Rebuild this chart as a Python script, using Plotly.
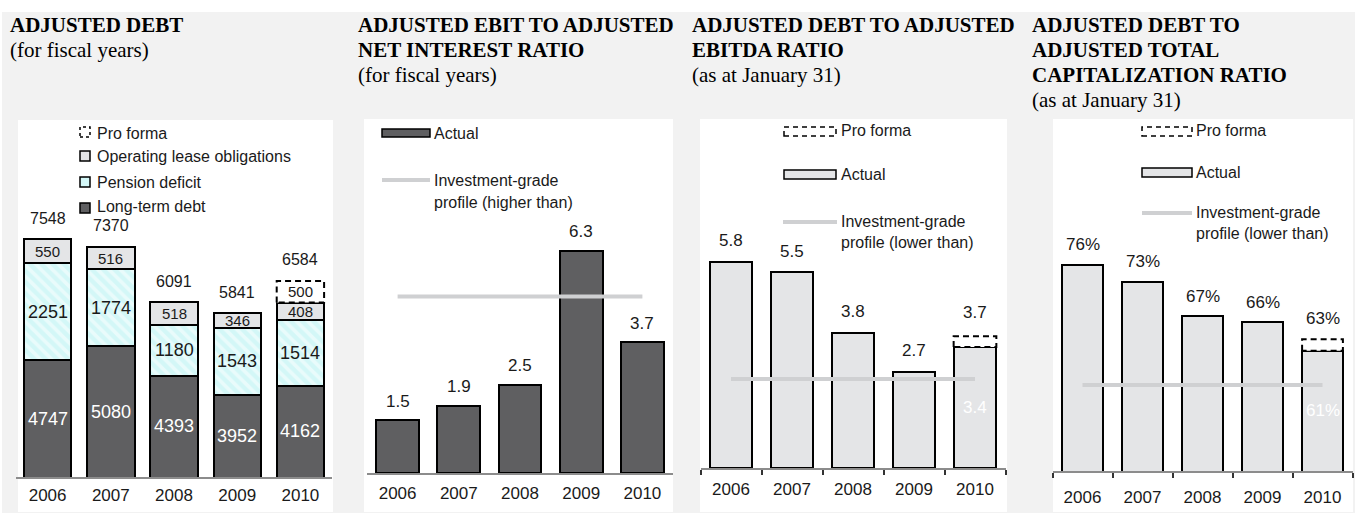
import plotly.graph_objects as go

# ---------------- data ----------------
years = [2006, 2007, 2008, 2009, 2010]
year_labels = ["2006", "2007", "2008", "2009", "2010"]

long_term_debt = [4747, 5080, 4393, 3952, 4162]
pension_deficit = [2251, 1774, 1180, 1543, 1514]
operating_lease = [550, 516, 518, 346, 408]
debt_pro_forma_2010 = 500

ebit_interest_ratio = [1.5, 1.9, 2.5, 6.3, 3.7]
ebit_interest_ig = 5.0

debt_ebitda_ratio = [5.8, 5.5, 3.8, 2.7, 3.4]
debt_ebitda_pro_forma_2010 = 3.7
debt_ebitda_ig = 2.5

debt_cap_ratio = [76, 73, 67, 66, 61]
debt_cap_pro_forma_2010 = 63
debt_cap_ig = 55

# ---------------- styling helpers ----------------
W, H = 1355, 513
def fx(x):
    return x / W
def fy(y):
    return 1 - y / H

DARK = "#5f5f61"
LIGHT = "#e4e5e7"
IGC = "#cfd0d2"
AXIS = "#8c8c8c"
TXT = "#1a1a1a"
SANS = "Liberation Sans, Arial, sans-serif"
SERIF = "Liberation Serif, Times New Roman, serif"

fig = go.Figure()
annotations = []
shapes = []

def ann(x, y, text, size=17, color=TXT, xref="x", yref="y", yshift=0,
        xanchor="center", yanchor="middle", family=SANS, bold=False):
    annotations.append(dict(
        x=x, y=y, text=text, xref=xref, yref=yref, yshift=yshift,
        xanchor=xanchor, yanchor=yanchor, showarrow=False,
        font=dict(family=family, size=size, color=color,
                  weight="bold" if bold else "normal")))

def pro_forma_box(xa, ya, center, width, base, top):
    fig.add_trace(go.Scatter(
        x=[center - width / 2, center - width / 2, center + width / 2,
           center + width / 2, center - width / 2],
        y=[base, top, top, base, base],
        mode="lines", fill="toself", fillcolor="white",
        line=dict(color="black", width=2, dash="6px,4px"),
        xaxis=xa, yaxis=ya, hoverinfo="skip", showlegend=False))

def ig_line(xa, ya, value):
    fig.add_trace(go.Scatter(
        x=[years[0], years[-1]], y=[value, value], mode="lines",
        line=dict(color=IGC, width=4), xaxis=xa, yaxis=ya,
        hoverinfo="skip", showlegend=False))

# ---------------- background ----------------
shapes.append(dict(type="rect", xref="paper", yref="paper",
                   x0=fx(2), x1=1, y0=0, y1=fy(12),
                   fillcolor="#f2f2f2", line=dict(width=0), layer="below"))
for (x0, x1, y0) in [(18, 333, 120), (364, 673, 119), (700, 1007, 119), (1053, 1353, 119)]:
    shapes.append(dict(type="rect", xref="paper", yref="paper",
                       x0=fx(x0), x1=fx(x1), y0=fy(512), y1=fy(y0),
                       fillcolor="white", line=dict(width=0), layer="below"))

# ---------------- titles ----------------
titles = [
    (8, ["ADJUSTED DEBT"], "(for fiscal years)"),
    (356, ["ADJUSTED EBIT TO ADJUSTED", "NET INTEREST RATIO"], "(for fiscal years)"),
    (690, ["ADJUSTED DEBT TO ADJUSTED", "EBITDA RATIO"], "(as at January 31)"),
    (1030, ["ADJUSTED DEBT TO", "ADJUSTED TOTAL", "CAPITALIZATION RATIO"], "(as at January 31)"),
]
for x, lines, sub in titles:
    for i, t in enumerate(lines):
        ann(fx(x), fy(25 + 25 * i), t, size=21, xref="paper", yref="paper",
            xanchor="left", family=SERIF, bold=True, color="black")
    ann(fx(x), fy(25 + 25 * len(lines)), sub, size=21, xref="paper", yref="paper",
        xanchor="left", family=SERIF, color="black")

# ---------------- panel 1: adjusted debt ----------------
w1 = 0.75
y1_min = 2055
fig.add_trace(go.Bar(x=years, y=long_term_debt, width=w1, name="Long-term debt",
                     marker=dict(color=DARK, line=dict(color="black", width=2)),
                     xaxis="x", yaxis="y"))
fig.add_trace(go.Bar(x=years, y=pension_deficit, width=w1, name="Pension deficit",
                     marker=dict(color="#d3f7f7", line=dict(color="black", width=2),
                                 pattern=dict(shape="\\", bgcolor="#d3f7f7",
                                              fgcolor="white", size=8, solidity=0.45)),
                     xaxis="x", yaxis="y"))
fig.add_trace(go.Bar(x=years, y=operating_lease, width=w1, name="Operating lease obligations",
                     marker=dict(color=LIGHT, line=dict(color="black", width=2)),
                     xaxis="x", yaxis="y"))
stack_2010 = long_term_debt[-1] + pension_deficit[-1] + operating_lease[-1]
pro_forma_box("x", "y", years[-1], w1, stack_2010, stack_2010 + debt_pro_forma_2010)

for i, yr in enumerate(years):
    ltd, pen, ol = long_term_debt[i], pension_deficit[i], operating_lease[i]
    total = ltd + pen + ol + (debt_pro_forma_2010 if i == len(years) - 1 else 0)
    ann(yr, (max(y1_min, 0) + ltd) / 2, str(ltd), size=18, color="white")
    ann(yr, ltd + pen / 2, str(pen), size=18)
    ann(yr, ltd + pen + ol / 2, str(ol), size=15)
    ann(yr, total, str(total), size=16, yshift=21)
ann(years[-1], stack_2010 + debt_pro_forma_2010 / 2, str(debt_pro_forma_2010), size=15)

# ---------------- panel 2: EBIT / interest ----------------
w2 = 0.70
fig.add_trace(go.Bar(x=years, y=ebit_interest_ratio, width=w2, name="Actual",
                     marker=dict(color=DARK, line=dict(color="black", width=2)),
                     xaxis="x2", yaxis="y2"))
ig_line("x2", "y2", ebit_interest_ig)
for yr, v in zip(years, ebit_interest_ratio):
    ann(yr, v, f"{v:.1f}", size=17, xref="x2", yref="y2", yshift=19)

# ---------------- panel 3: debt / EBITDA ----------------
w3 = 0.70
fig.add_trace(go.Bar(x=years, y=debt_ebitda_ratio, width=w3, name="Actual",
                     marker=dict(color=LIGHT, line=dict(color="black", width=2)),
                     xaxis="x3", yaxis="y3"))
pro_forma_box("x3", "y3", years[-1], w3, debt_ebitda_ratio[-1], debt_ebitda_pro_forma_2010)
ig_line("x3", "y3", debt_ebitda_ig)
for i, (yr, v) in enumerate(zip(years, debt_ebitda_ratio)):
    if i == len(years) - 1:
        ann(yr, v / 2, f"{v:.1f}", size=17, color="white", xref="x3", yref="y3")
        ann(yr, debt_ebitda_pro_forma_2010, f"{debt_ebitda_pro_forma_2010:.1f}",
            size=17, xref="x3", yref="y3", yshift=24)
    else:
        ann(yr, v, f"{v:.1f}", size=17, xref="x3", yref="y3", yshift=21)

# ---------------- panel 4: debt / capitalization ----------------
w4 = 0.68
y4_min = 40
fig.add_trace(go.Bar(x=years, y=debt_cap_ratio, width=w4, name="Actual",
                     marker=dict(color=LIGHT, line=dict(color="black", width=2)),
                     xaxis="x4", yaxis="y4"))
pro_forma_box("x4", "y4", years[-1], w4, debt_cap_ratio[-1], debt_cap_pro_forma_2010)
ig_line("x4", "y4", debt_cap_ig)
for i, (yr, v) in enumerate(zip(years, debt_cap_ratio)):
    if i == len(years) - 1:
        ann(yr, (y4_min + v) / 2, f"{v}%", size=17, color="white", xref="x4", yref="y4")
        ann(yr, debt_cap_pro_forma_2010, f"{debt_cap_pro_forma_2010}%",
            size=17, xref="x4", yref="y4", yshift=21)
    else:
        ann(yr, v, f"{v}%", size=17, xref="x4", yref="y4", yshift=20)

# ---------------- manual legends ----------------
def leg_rect(x0, x1, y0, y1, fill, dash=None, lw=1.5):
    line = dict(color="black", width=lw)
    if dash:
        line["dash"] = dash
    shapes.append(dict(type="rect", xref="paper", yref="paper",
                       x0=fx(x0), x1=fx(x1), y0=fy(y1), y1=fy(y0),
                       fillcolor=fill, line=line))

def leg_line(x0, x1, y):
    shapes.append(dict(type="line", xref="paper", yref="paper",
                       x0=fx(x0), x1=fx(x1), y0=fy(y), y1=fy(y),
                       line=dict(color=IGC, width=4)))

def leg_text(x, y, t):
    ann(fx(x), fy(y), t, size=16, xref="paper", yref="paper", xanchor="left")

# panel 1
leg_rect(80, 90, 127, 137, "white", dash="3px,3px")
leg_text(95, 133, "Pro forma")
leg_rect(80, 90, 151, 161, LIGHT)
leg_text(95, 156, "Operating lease obligations")
leg_rect(80, 90, 177, 187, "#d3f7f7")
leg_text(95, 182, "Pension deficit")
leg_rect(80, 90, 203, 213, DARK)
leg_text(95, 207, "Long-term debt")

# panel 2
leg_rect(382, 430, 129, 137, DARK)
leg_text(432, 133, "Actual")
leg_line(382, 430, 180)
leg_text(432, 180, "Investment-grade")
leg_text(432, 203, "profile (higher than)")

# panel 3
leg_rect(784, 836, 127, 136, "white", dash="5px,4px")
leg_text(839, 131, "Pro forma")
leg_rect(784, 836, 170, 179, LIGHT)
leg_text(839, 174, "Actual")
leg_line(783, 837, 222)
leg_text(839, 221, "Investment-grade")
leg_text(839, 242, "profile (lower than)")

# panel 4
leg_rect(1142, 1192, 127, 136, "white", dash="5px,4px")
leg_text(1194, 130, "Pro forma")
leg_rect(1142, 1192, 168, 177, LIGHT)
leg_text(1194, 172, "Actual")
leg_line(1142, 1192, 213)
leg_text(1194, 212, "Investment-grade")
leg_text(1194, 233, "profile (lower than)")

# ---------------- axes ----------------
def xaxis_cfg(x0, x1, anchor, ticklen, minor=False):
    cfg = dict(domain=[fx(x0), fx(x1)], range=[2005.5, 2010.5], anchor=anchor,
               tickmode="array", tickvals=years, ticktext=year_labels,
               ticks="outside", ticklen=ticklen, tickcolor="rgba(0,0,0,0)",
               showline=True, linecolor=AXIS, linewidth=2,
               showgrid=False, zeroline=False, fixedrange=True,
               tickfont=dict(family=SANS, size=17, color=TXT))
    if minor:
        cfg["minor"] = dict(tickmode="array",
                            tickvals=[y - 0.5 for y in years] + [years[-1] + 0.5],
                            ticks="outside", ticklen=5, tickwidth=1.5, tickcolor="#333")
    return cfg

def yaxis_cfg(y_bottom, y_top, rng, anchor):
    return dict(domain=[fy(y_bottom), fy(y_top)], range=rng, anchor=anchor,
                visible=False, showgrid=False, zeroline=False, fixedrange=True)

fig.update_layout(
    width=W, height=H, margin=dict(l=0, r=0, t=0, b=0),
    paper_bgcolor="white", plot_bgcolor="rgba(0,0,0,0)",
    barmode="stack", showlegend=False, hovermode=False,
    xaxis=xaxis_cfg(16, 332, "y", 2),
    yaxis=yaxis_cfg(477, 120, [y1_min, y1_min + 357 * 23.1], "x"),
    xaxis2=xaxis_cfg(367, 673, "y2", 4),
    yaxis2=yaxis_cfg(473, 119, [0, 354 / 35.3], "x2"),
    xaxis3=xaxis_cfg(700.5, 1005.5, "y3", 5, minor=True),
    yaxis3=yaxis_cfg(468, 119, [0, 349 / 35.6], "x3"),
    xaxis4=xaxis_cfg(1052.5, 1352.5, "y4", 10, minor=True),
    yaxis4=yaxis_cfg(471, 119, [y4_min, y4_min + 352 / 5.73], "x4"),
    shapes=shapes, annotations=annotations,
)

fig.write_html("out.html")
